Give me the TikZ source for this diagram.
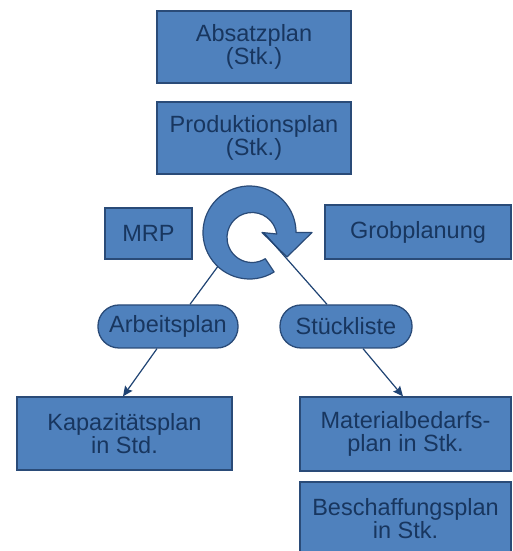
\documentclass[tikz,border=0pt]{standalone}
\usepackage{fontspec}
\setmainfont{Liberation Sans}
\usetikzlibrary{arrows.meta,calc}
\definecolor{boxfill}{HTML}{4F81BD}
\definecolor{boxline}{HTML}{2A4B78}
\definecolor{boxtext}{HTML}{18365F}
\definecolor{wirecol}{HTML}{1F4373}
\begin{document}
\begin{tikzpicture}[x=1pt,y=1pt,
  planbox/.style={draw=boxline, line width=1.3pt, fill=boxfill, text=boxtext,
    align=center, inner sep=0pt, font=\fontsize{23.5}{23}\selectfont},
  pill/.style={planbox, rounded corners=21pt},
  wire/.style={draw=wirecol, line width=1.2pt},
  arrowwire/.style={wire, -{Stealth[length=10pt,width=9pt,inset=1.5pt]}}
]
\useasboundingbox (0,0) rectangle (512,551);

% planning boxes
\node[planbox, minimum width=194pt, minimum height=72pt] (absatz) at (254,504) {Absatzplan\\(Stk.)};
\node[planbox, minimum width=194pt, minimum height=72pt] (prod) at (254,413) {Produktionsplan\\(Stk.)};
\node[planbox, minimum width=87pt, minimum height=51pt] (mrp) at (148.5,317.5) {MRP};
\node[planbox, minimum width=186pt, minimum height=54pt] (grob) at (418,319) {Grobplanung};
\node[pill, minimum width=140pt, minimum height=43pt] (arb) at (168,224.5) {Arbeitsplan};
\node[pill, minimum width=132pt, minimum height=43pt] (stk) at (346,224.5) {Stückliste};
\node[planbox, minimum width=215pt, minimum height=73pt] (kap) at (124.5,117.5) {Kapazitätsplan\\in Std.};
\node[planbox, minimum width=211pt, minimum height=74pt] (mat) at (405.5,117) {Materialbedarfs-\\plan in Stk.};
\node[planbox, minimum width=211pt, minimum height=74pt] (besch) at (405.5,32) {Beschaffungsplan\\in Stk.};

% circular planning arrow (outer rim and slightly offset hole)
\coordinate (ringc) at (249.5,318.5);
\coordinate (holec) at (252,313.5);
\filldraw[boxfill, draw=boxline, line width=1.2pt, line join=round]
  ($(ringc)+(-58:46.5pt)$) arc[start angle=-58, end angle=-360, radius=46.5pt]
  -- (312,318.5) -- (287,294) -- (262,318.5) -- ($(holec)+(8:25pt)$)
  arc[start angle=8, end angle=302, radius=25pt] -- cycle;

\coordinate (ringA) at ($(ringc)+(-133:46.5pt)$);
\coordinate (ringB) at (264,318);

% connectors
\draw[wire] (ringA) -- ([xshift=22pt]arb.north);
\draw[wire] (ringB) -- ([xshift=-19pt]stk.north);
\draw[arrowwire] ([xshift=-11pt]arb.south) -- ([xshift=-1.5pt]kap.north);
\draw[arrowwire] ([xshift=17pt]stk.south) -- ([xshift=-2.5pt]mat.north);
\end{tikzpicture}
\end{document}
